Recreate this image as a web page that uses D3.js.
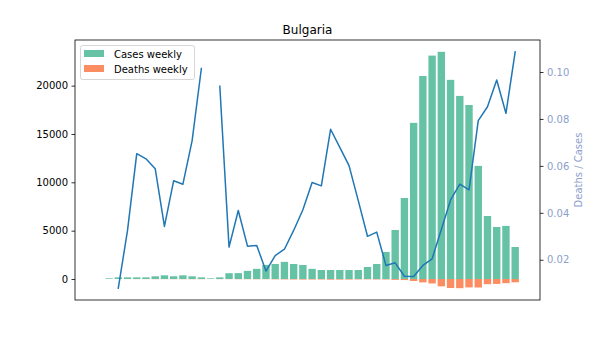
<!DOCTYPE html>
<html><head><meta charset="utf-8">
<script src="https://cdn.jsdelivr.net/npm/d3@7"></script>
<style>
html,body{margin:0;padding:0;background:#fff;}
svg{display:block;font-family:"DejaVu Sans",sans-serif;}
</style></head>
<body>
<svg id="chart" width="600" height="337"></svg>
<script>
const weeks = ["2020-W09","2020-W10","2020-W11","2020-W12","2020-W13","2020-W14","2020-W15","2020-W16","2020-W17","2020-W18",
  "2020-W19","2020-W20","2020-W21","2020-W22","2020-W23","2020-W24","2020-W25","2020-W26","2020-W27","2020-W28",
  "2020-W29","2020-W30","2020-W31","2020-W32","2020-W33","2020-W34","2020-W35","2020-W36","2020-W37","2020-W38",
  "2020-W39","2020-W40","2020-W41","2020-W42","2020-W43","2020-W44","2020-W45","2020-W46","2020-W47","2020-W48",
  "2020-W49","2020-W50","2020-W51","2020-W52","2020-W53","2021-W01"];
const casesWeekly = [0, 70, 170, 170, 170, 170, 280, 380, 280, 380,
  280, 170, 70, 170, 600, 610, 840, 1050, 1450, 1550,
  1770, 1550, 1450, 1050, 930, 930, 930, 930, 930, 1240,
  1550, 2800, 5070, 8380, 16150, 21000, 23110, 23500, 20600, 18940,
  18000, 11700, 6520, 5380, 5490, 3310];
const deathsWeekly = [0, 0, 1, 6, 11, 11, 16, 13, 15, 20,
  20, 17, 0, 16, 15, 25, 22, 27, 22, 34,
  43, 51, 60, 56, 48, 70, 63, 56, 42, 37,
  49, 49, 90, 110, 205, 350, 460, 760, 930, 950,
  870, 880, 540, 510, 430, 340];
const deathRatio = [null, null, 0.0079, 0.0325, 0.0652, 0.0630, 0.0588, 0.0342, 0.0537, 0.0522,
  0.0708, 0.1015, null, 0.0939, 0.0254, 0.041, 0.0258, 0.0261, 0.0152, 0.0218,
  0.0245, 0.0325, 0.0413, 0.0529, 0.0515, 0.0756, 0.0679, 0.0601, 0.0452, 0.030,
  0.0318, 0.0176, 0.0187, 0.013, 0.0129, 0.0176, 0.0204, 0.0329, 0.0455, 0.0522,
  0.0498, 0.0793, 0.0852, 0.0966, 0.0824, 0.1086];
const leftTicks = [0, 5000, 10000, 15000, 20000];
const rightTicks = [0.02, 0.04, 0.06, 0.08, 0.10];
const title = "Bulgaria";
const rightLabel = "Deaths / Cases";
const legendLabels = ["Cases weekly", "Deaths weekly"];

const colCases = "#66c2a5", colDeaths = "#fc8d62", colLine = "#1f77b4", colRight = "#8da0cb";
const L = 75, R = 540, T = 40, B = 300;
const svg = d3.select("#chart");

function pad(lo, hi){ const r = hi - lo; return [lo - 0.05*r, hi + 0.05*r]; }

const n = weeks.length;
const x = d3.scaleLinear().domain(pad(-0.4, n - 1 + 0.4)).range([L, R]);
const yL = d3.scaleLinear().domain(pad(-d3.max(deathsWeekly), d3.max(casesWeekly))).range([B, T]);
const rv = deathRatio.filter(v => v != null);
const yR = d3.scaleLinear().domain(pad(d3.min(rv), d3.max(rv))).range([B, T]);
const bw = x(0.8) - x(0);

const plot = svg.append("g");
plot.selectAll("rect.c").data(casesWeekly).join("rect").attr("class","c")
  .attr("x", (d,i) => x(i - 0.4)).attr("width", bw)
  .attr("y", d => yL(d)).attr("height", d => yL(0) - yL(d)).attr("fill", colCases);
plot.selectAll("rect.d").data(deathsWeekly).join("rect").attr("class","d")
  .attr("x", (d,i) => x(i - 0.4)).attr("width", bw)
  .attr("y", yL(0)).attr("height", d => yL(-d) - yL(0)).attr("fill", colDeaths);

const line = d3.line().defined(d => d != null).x((d,i) => x(i)).y(d => yR(d));
plot.append("path").datum(deathRatio).attr("d", line)
  .attr("fill","none").attr("stroke", colLine).attr("stroke-width", 1.5)
  .attr("stroke-linejoin","round").attr("stroke-linecap","square");

// left axis
const ga = svg.append("g").attr("transform", `translate(${L},0)`)
  .call(d3.axisLeft(yL).tickValues(leftTicks).tickSize(3.5).tickPadding(3.5).tickFormat(d3.format("d")));
ga.select(".domain").remove();
ga.selectAll("text").attr("font-size", 10).attr("fill", "#000").attr("font-family","DejaVu Sans");
ga.selectAll("line").attr("stroke","#000").attr("stroke-width",0.8);

// right axis
const gr = svg.append("g").attr("transform", `translate(${R},0)`)
  .call(d3.axisRight(yR).tickValues(rightTicks).tickSize(3.5).tickPadding(3.5).tickFormat(d3.format(".2f")));
gr.select(".domain").remove();
gr.selectAll("text").attr("font-size", 10).attr("fill", colRight).attr("font-family","DejaVu Sans");
gr.selectAll("line").attr("stroke","#000").attr("stroke-width",0.8);

// frame
svg.append("rect").attr("x", L).attr("y", T).attr("width", R - L).attr("height", B - T)
  .attr("fill","none").attr("stroke","#000").attr("stroke-width",0.8);

// titles
svg.append("text").attr("x", (L + R)/2).attr("y", T - 6).attr("text-anchor","middle")
  .attr("font-size", 12).text(title);
svg.append("text").attr("transform", `translate(582,${(T + B)/2}) rotate(-90)`)
  .attr("text-anchor","middle").attr("font-size", 10).attr("fill", colRight).text(rightLabel);

// legend
const lg = svg.append("g");
lg.append("rect").attr("x", 80.5).attr("y", 45.5).attr("width", 114).attr("height", 34)
  .attr("rx", 2).attr("fill","#fff").attr("fill-opacity",0.8).attr("stroke","#ccc").attr("stroke-width",0.8);
[colCases, colDeaths].forEach((c, i) => {
  lg.append("rect").attr("x", 84).attr("y", 50 + i*15).attr("width", 20).attr("height", 7).attr("fill", c);
  lg.append("text").attr("x", 114).attr("y", 54 + i*15).attr("dy","0.35em")
    .attr("font-size", 10).text(legendLabels[i]);
});
</script>
</body></html>
